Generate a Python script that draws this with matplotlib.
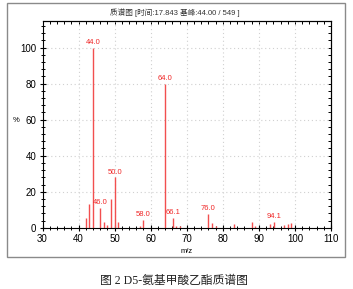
import matplotlib
matplotlib.use('Agg')
import matplotlib.pyplot as plt
from matplotlib.patches import Rectangle

# peak list (m/z, relative abundance %)
mz = [42.0, 43.0, 44.0, 46.0, 47.0, 48.0, 49.0, 50.0, 51.0,
      57.0, 58.0, 64.0, 66.1, 67.0, 68.0, 76.0, 77.0, 78.0,
      83.0, 88.0, 89.0, 93.0, 94.1, 97.0, 98.0, 99.0]
abund = [5.6, 13.3, 100, 11.1, 2.9, 1.3, 16.1, 28.0, 2.9,
         0.9, 4.4, 80.0, 5.6, 0.7, 0.9, 7.8, 2.6, 0.8,
         2.2, 2.9, 0.7, 1.8, 3.4, 1.7, 2.1, 2.7]
labeled = [44.0, 46.0, 50.0, 58.0, 64.0, 66.1, 76.0, 94.1]

xticks = [30, 40, 50, 60, 70, 80, 90, 100, 110]
yticks = [0, 20, 40, 60, 80, 100]

title_txt = '质谱图 [时间:17.843 基峰:44.00 / 549 ]'
caption = '图 2 D5-氨基甲酸乙酯质谱图'

plt.rcParams['font.family'] = ['Liberation Sans', 'Noto Sans CJK SC']

fig = plt.figure(figsize=(3.53, 2.89), dpi=100)
fig.patches.append(Rectangle((0.020, 0.110), 0.957, 0.879, transform=fig.transFigure,
                             fill=False, edgecolor='#8a8a8a', linewidth=1.0))

ax = fig.add_axes([0.1204, 0.2121, 0.8173, 0.7163])
ax.vlines(mz, 0, abund, colors='#f24f4f', linewidth=1.0)
for m, a in zip(mz, abund):
    if m in labeled:
        ax.text(m, a + 1.0, '%.1f' % m, color='#f02828', fontsize=5.5,
                ha='center', va='bottom')

ax.set_xlim(30, 110)
ax.set_ylim(0, 115)
ax.set_xticks(xticks)
ax.set_yticks(yticks)
ax.set_xticks(range(30, 111, 2), minor=True)
ax.set_yticks(range(0, 115, 4), minor=True)
ax.tick_params(which='major', direction='inout', length=5, width=0.8, labelsize=7, pad=2)
ax.tick_params(which='minor', direction='inout', length=3, width=0.7)
ax.grid(True, which='major', color='#d0d0d0', linestyle=(0, (1, 2.5)), linewidth=0.8)
for s in ax.spines.values():
    s.set_linewidth(0.8)

top = ax.secondary_xaxis('top')
top.set_xticks(xticks)
top.set_xticks(range(30, 111, 2), minor=True)
top.tick_params(which='both', direction='in', labeltop=False, length=2.5, width=0.7)
right = ax.secondary_yaxis('right')
right.set_yticks(yticks)
right.set_yticks(range(0, 115, 4), minor=True)
right.tick_params(which='both', direction='in', labelright=False, length=2.5, width=0.7)

ax.set_xlabel('m/z', fontsize=5.5, labelpad=3)
ax.set_ylabel('%', fontsize=5.5, rotation=0, labelpad=10)
ax.yaxis.set_label_coords(-0.09, 0.5)

fig.text(0.496, 0.955, title_txt, fontsize=5.5, ha='center', va='center', color='#333333',
         family=['Liberation Sans', 'Noto Sans CJK SC'])
fig.text(0.493, 0.027, caption, fontsize=8.5, ha='center', va='center', color='#222222',
         family=['Liberation Serif', 'Noto Sans CJK SC'])

fig.savefig('out.png', dpi=100)
